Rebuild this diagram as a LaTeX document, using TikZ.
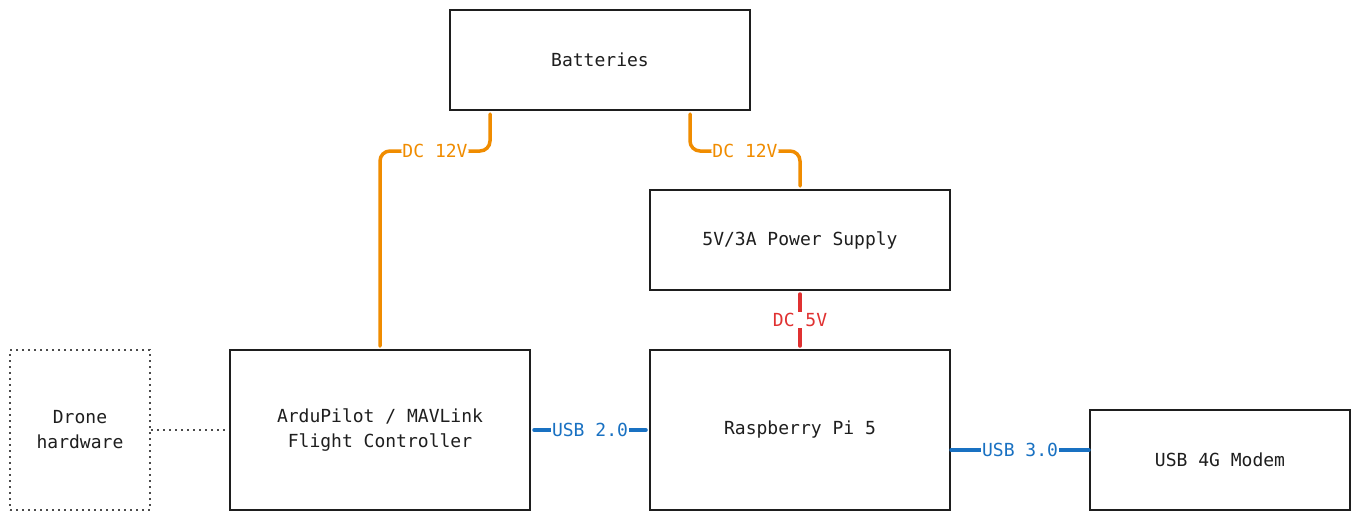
\documentclass[tikz,border=0pt]{standalone}
\usepackage{fontspec}
\setmonofont{DejaVu Sans Mono}
\usetikzlibrary{positioning}

\definecolor{ink}{HTML}{1E1E1E}
\definecolor{wireorange}{HTML}{F08C00}
\definecolor{wirered}{HTML}{E03131}
\definecolor{wireblue}{HTML}{1971C2}

\tikzset{
	block/.style={draw=ink, line width=2pt, text=ink, minimum width=300pt,
		minimum height=100pt, align=center, font=\ttfamily\fontsize{18}{25}\selectfont},
	dots/.style={draw=ink!80, dash pattern=on 2pt off 4pt, line width=2pt},
	hwbox/.style={block, dots, minimum width=140pt, minimum height=160pt},
	wire/.style={line width=3.5pt, line cap=round},
	pwr/.style={wire, draw=wireorange, rounded corners=10pt},
	lbl/.style={fill=white, inner sep=1pt, font=\ttfamily\fontsize{18}{20}\selectfont}
}

\begin{document}
\begin{tikzpicture}[x=1pt, y=-1pt]
\useasboundingbox[fill=white] (0,0) rectangle (1360,520);

% boxes
\node[block] (bat) at (600,60) {Batteries};
\node[block] (psu) at (800,240) {5V/3A Power Supply};
\node[block, minimum height=160pt] (fc) at (380,430) {ArduPilot / MAVLink\\Flight Controller};
\node[block, minimum height=160pt] (rpi) at (800,430) {Raspberry Pi 5};
\node[block, minimum width=260pt] (modem) at (1220,460) {USB 4G Modem};
\node[hwbox] (hw) at (80,430) {Drone\\hardware};

% power
\draw[pwr] ([xshift=-110pt,yshift=-3pt]bat.south) -- ++(0,37)
	-| node[lbl, text=wireorange, pos=0.25] {DC 12V} ([yshift=3pt]fc.north);
\draw[pwr] ([xshift=90pt,yshift=-3pt]bat.south) -- ++(0,37)
	-| node[lbl, text=wireorange, pos=0.25] {DC 12V} ([yshift=3pt]psu.north);
\draw[wire, draw=wirered] ([yshift=-3pt]psu.south) --
	node[lbl, text=wirered] {DC 5V} ([yshift=3pt]rpi.north);

% data
\draw[wire, draw=wireblue] ([xshift=3pt]fc.east) --
	node[lbl, text=wireblue] {USB 2.0} ([xshift=-3pt]rpi.west);
\draw[wire, draw=wireblue] ([yshift=-20pt]rpi.east) --
	node[lbl, text=wireblue] {USB 3.0} ([yshift=10pt]modem.west);
\draw[dots] (hw.east) -- (fc.west);
\end{tikzpicture}
\end{document}
